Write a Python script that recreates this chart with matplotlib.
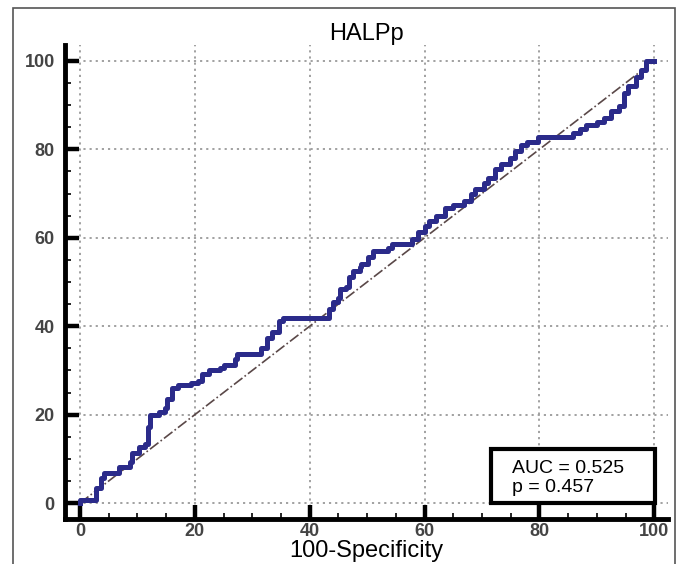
import matplotlib.pyplot as plt
from matplotlib.patches import Rectangle
from matplotlib.ticker import MultipleLocator

plt.rcParams['font.family'] = ['Liberation Sans', 'DejaVu Sans']

# ROC corner points (100-Specificity, Sensitivity)
fpr = [0, 0, 2.3, 2.8, 3.6, 4.2, 6.1, 6.8, 8.7, 9.1, 10.3, 11.4, 11.8, 12.2,
       13.7, 14.8, 15.2, 16.0, 17.1, 19.4, 20.5, 21.3, 22.4, 24.3, 25.1, 27.0,
       27.4, 30.4, 31.6, 32.5, 33.5, 34.6, 35.4, 43.0, 43.3, 44.1, 44.9, 45.2,
       46.4, 46.8, 47.5, 48.7, 49.0, 50.2, 51.0, 53.6, 54.4, 57.0, 57.8, 58.9,
       60.1, 60.8, 62.0, 63.5, 65.0, 66.9, 68.1, 68.8, 70.3, 71.1, 72.2, 73.4,
       74.9, 75.7, 76.8, 77.9, 79.8, 85.2, 85.9, 87.1, 88.2, 90.1, 91.3, 92.4,
       93.9, 94.7, 95.4, 96.9, 97.7, 98.5, 100]
tpr = [0, 0.8, 0.8, 3.3, 5.7, 6.9, 6.9, 8.1, 9.3, 11.4, 12.6, 13.4, 17.1, 19.9,
       20.7, 21.5, 23.6, 26.0, 26.8, 27.2, 27.6, 29.3, 30.1, 30.5, 31.3, 32.5,
       33.7, 33.7, 35.0, 37.4, 38.6, 41.1, 41.9, 41.9, 43.9, 45.5, 46.3, 48.4,
       48.8, 51.2, 52.4, 53.3, 54.1, 55.7, 56.9, 57.7, 58.5, 58.5, 59.8, 61.4,
       62.6, 63.8, 65.0, 66.7, 67.5, 68.3, 69.9, 71.1, 72.4, 73.6, 75.6, 76.8,
       78.0, 79.7, 80.9, 81.7, 82.9, 82.9, 83.7, 84.6, 85.4, 86.2, 87.0, 88.6,
       89.8, 92.7, 94.3, 96.3, 98.0, 100, 100]

auc_text = 'AUC = 0.525'
p_text = 'p = 0.457'

fig = plt.figure(figsize=(6.81, 5.64), dpi=100)
ax = fig.add_axes([64.5 / 681, 1 - 519 / 564, (668 - 64.5) / 681, (519 - 45) / 564])

# frame around the whole picture
fig.patches.append(Rectangle((13 / 681, -0.05), (675 - 13) / 681, 1.05 - 8 / 564,
                             transform=fig.transFigure, fill=False,
                             edgecolor='#555555', linewidth=1.2))

ax.plot([0, 100], [0, 100], color='#5a4848', linestyle='-.', linewidth=1.2, zorder=2)
ax.plot(fpr, tpr, drawstyle='steps-post', color='#2b2b8a', linewidth=3.6, zorder=3)

ax.set_xlim(-2.7, 102.4)
ax.set_ylim(-3.6, 103.6)
ax.xaxis.set_major_locator(MultipleLocator(20))
ax.yaxis.set_major_locator(MultipleLocator(20))
ax.xaxis.set_minor_locator(MultipleLocator(5))
ax.yaxis.set_minor_locator(MultipleLocator(5))
ax.grid(True, which='major', color='#9a9a9a', linestyle=(0, (1.2, 2.2)), linewidth=1.3)

for s in ['top', 'right']:
    ax.spines[s].set_visible(False)
for s in ['left', 'bottom']:
    ax.spines[s].set_linewidth(3.5)
ax.tick_params(which='major', direction='in', length=10, width=3.2,
               labelsize=13, labelcolor='#444444')
ax.tick_params(axis='y', which='major', pad=7)
ax.tick_params(axis='x', which='major', pad=3)
ax.tick_params(which='minor', direction='in', length=4.5, width=1.2)
for lab in ax.get_xticklabels() + ax.get_yticklabels():
    lab.set_fontweight('bold')

ax.set_title('HALPp', fontsize=17, pad=0)
ax.set_xlabel('100-Specificity', fontsize=17, labelpad=0)

ax.add_patch(Rectangle((71.5, 0), 28.7, 12.2, facecolor='white', edgecolor='black',
                       linewidth=3, zorder=5))
ax.text(75.2, 6.8, auc_text, fontsize=14, va='baseline', zorder=6)
ax.text(75.2, 2.5, p_text, fontsize=14, va='baseline', zorder=6)

fig.savefig('out.png', dpi=100)
